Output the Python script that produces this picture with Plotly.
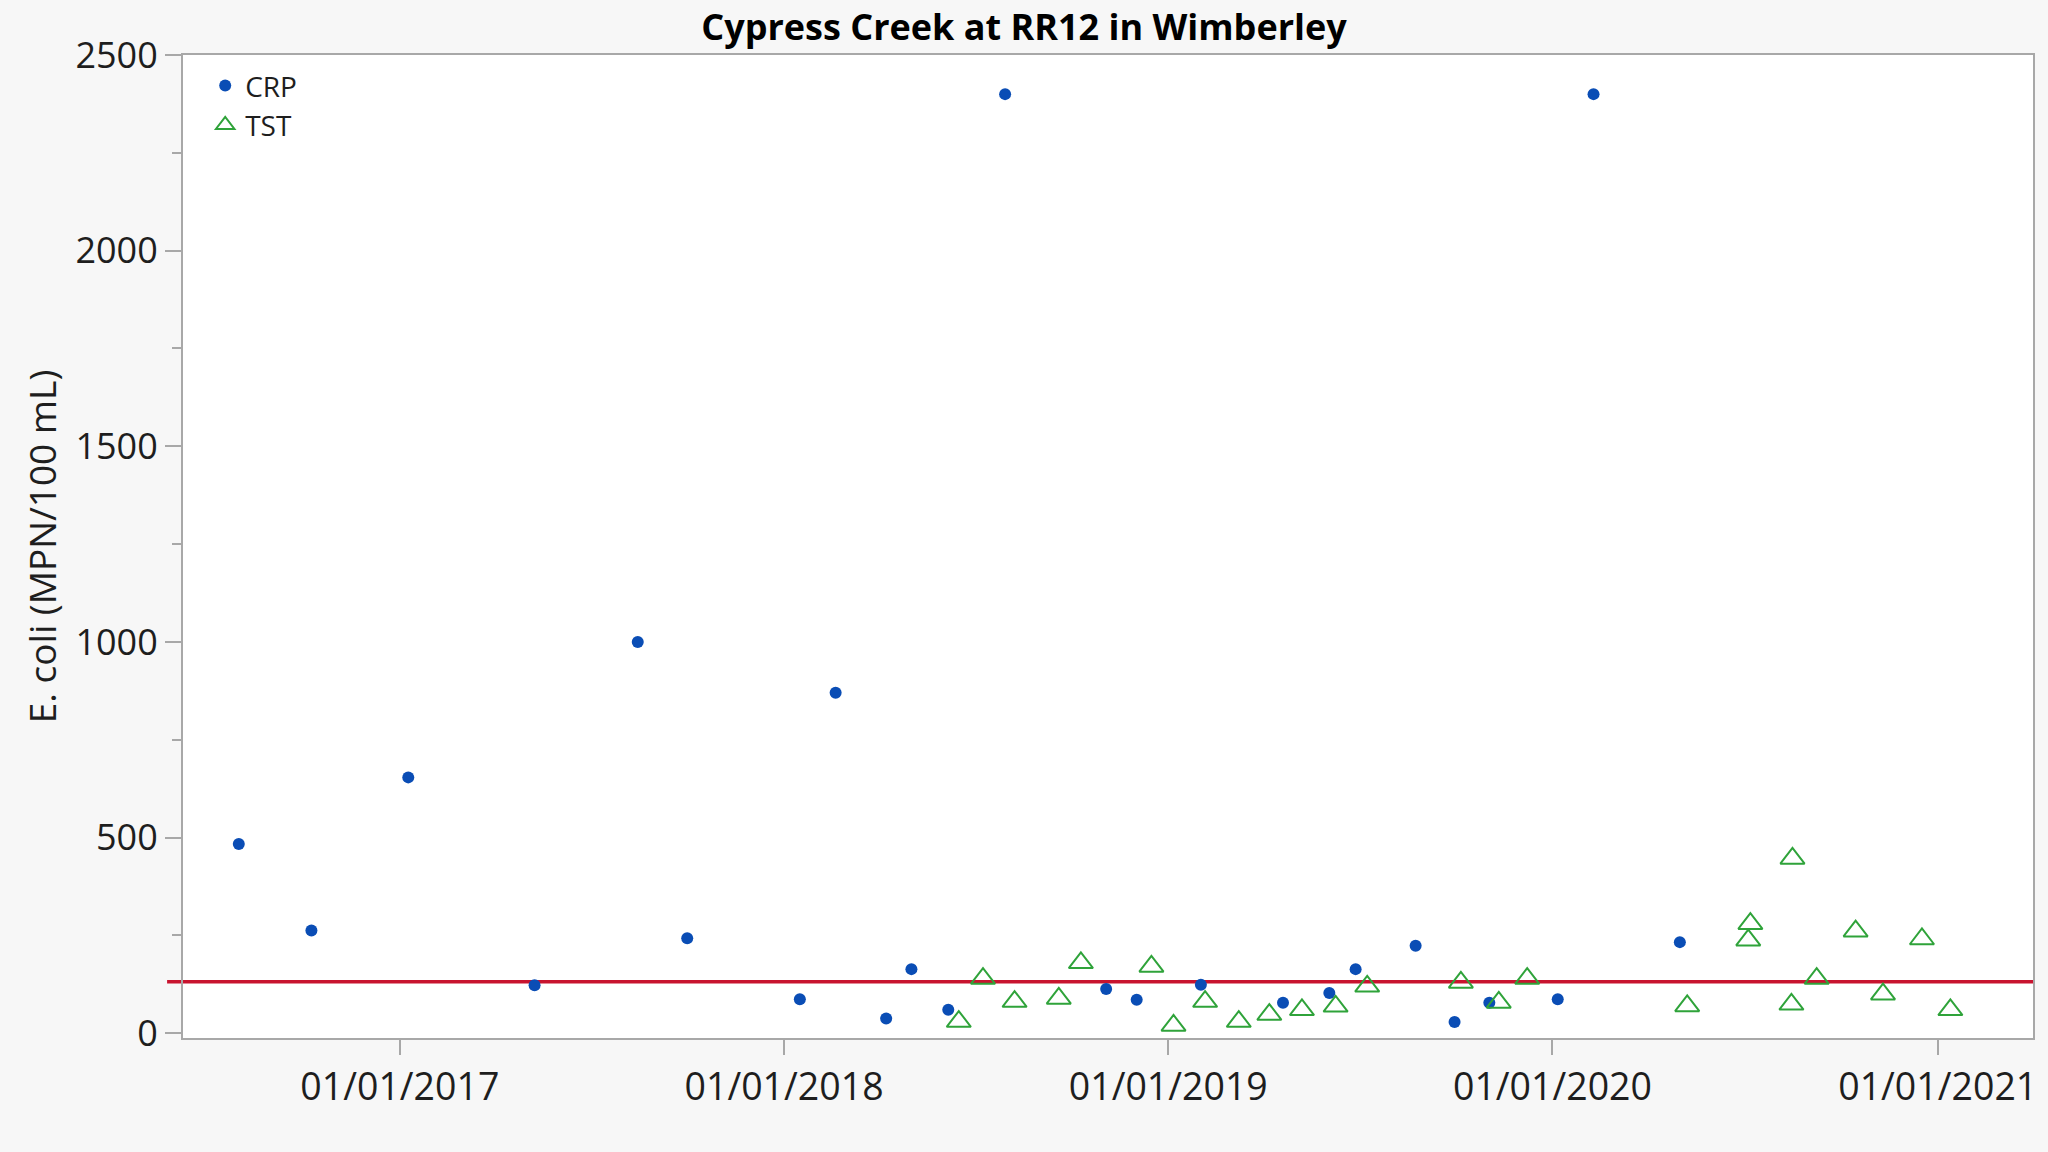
import plotly.graph_objects as go

# ---- data ----
crp_dates = [
    "2016-08-01", "2016-10-09", "2017-01-09", "2017-05-09", "2017-08-15",
    "2017-10-01", "2018-01-16", "2018-02-19", "2018-04-08", "2018-05-02",
    "2018-06-06", "2018-07-30", "2018-11-03", "2018-12-02", "2019-02-01",
    "2019-04-20", "2019-06-03", "2019-06-28", "2019-08-24", "2019-09-30",
    "2019-11-02", "2020-01-06", "2020-02-09", "2020-05-01",
]
crp_values = [
    484, 263, 654, 123, 1000,
    243, 87, 870, 38, 164,
    60, 2400, 113, 86, 124,
    78, 103, 164, 224, 29,
    78, 87, 2400, 233,
]

tst_dates = [
    "2018-06-16", "2018-07-09", "2018-08-08", "2018-09-19", "2018-10-10",
    "2018-12-16", "2019-01-06", "2019-02-05", "2019-03-09", "2019-04-07",
    "2019-05-08", "2019-06-09", "2019-07-09", "2019-10-06", "2019-11-11",
    "2019-12-08", "2020-05-08", "2020-07-05", "2020-07-07", "2020-08-15",
    "2020-08-16", "2020-09-08", "2020-10-15", "2020-11-10", "2020-12-17",
    "2021-01-13",
]
tst_values = [
    30, 140, 81, 89, 180,
    171, 20, 81, 30, 48,
    60, 69, 120, 130, 79,
    140, 70, 238, 280, 74,
    447, 140, 261, 100, 241,
    60,
]

criterion = 132  # reference (criterion) line

x_tick_dates = ["2017-01-01", "2018-01-01", "2019-01-01", "2020-01-01", "2021-01-01"]
x_tick_labels = ["01/01/2017", "01/01/2018", "01/01/2019", "01/01/2020", "01/01/2021"]
y_tick_vals = [0, 500, 1000, 1500, 2000, 2500]

title_text = "Cypress Creek at RR12 in Wimberley"
y_title = "E. coli (MPN/100 mL)"

# ---- figure ----
FONT = "Open Sans"
BLUE = "#0a4db5"
GREEN = "#2fa33a"
RED = "#c8142f"
AXIS = "#a8a8a8"
TEXT = "#1e1e1e"

fig = go.Figure()
fig.add_trace(go.Scatter(
    x=crp_dates, y=crp_values, mode="markers", name="CRP",
    marker=dict(symbol="circle", size=12, color=BLUE),
))
fig.add_trace(go.Scatter(
    x=tst_dates, y=tst_values, mode="markers", name="TST",
    marker=dict(symbol="triangle-up-open", size=21, color=GREEN,
                line=dict(width=2, color=GREEN)),
))

fig.add_shape(type="line", xref="paper", yref="y",
              x0=-0.0086, x1=1, y0=criterion, y1=criterion,
              line=dict(color=RED, width=3.5), layer="below")

fig.update_layout(
    width=2048, height=1152,
    paper_bgcolor="#f7f7f7", plot_bgcolor="#ffffff",
    margin=dict(l=183, r=15, t=55, b=114, autoexpand=False),
    title=dict(text=title_text, x=0.5, xanchor="center",
               y=1 - 27 / 1152, yanchor="middle",
               font=dict(family=FONT, size=36, color="#000000", weight="bold")),
    font=dict(family=FONT, color=TEXT),
    showlegend=True,
    legend=dict(x=0.012, y=0.994, xanchor="left", yanchor="top",
                bgcolor="rgba(0,0,0,0)", font=dict(family=FONT, size=28, color=TEXT),
                itemclick=False),
)

fig.update_xaxes(
    type="date", range=["2016-06-09", "2021-04-01 12:00"],
    tickvals=x_tick_dates, ticktext=x_tick_labels,
    ticks="outside", ticklen=15, tickwidth=2, tickcolor=AXIS,
    showline=True, linecolor=AXIS, linewidth=2, mirror=True,
    showgrid=False, zeroline=False,
    tickfont=dict(family=FONT, size=37.5, color=TEXT),
)
fig.update_yaxes(
    range=[-12, 2500],
    tickvals=y_tick_vals,
    ticks="outside", ticklen=16, tickwidth=2, tickcolor=AXIS,
    minor=dict(dtick=250, tick0=250, ticks="outside", ticklen=9, tickwidth=2, tickcolor=AXIS),
    showline=True, linecolor=AXIS, linewidth=2, mirror=True,
    showgrid=False, zeroline=False,
    tickfont=dict(family=FONT, size=36, color=TEXT),
    title=dict(text=y_title, font=dict(family=FONT, size=37, color=TEXT), standoff=8),
)

fig.write_html("out.html",
               config={"displayModeBar": False},
               post_script="document.body.style.margin='0';document.body.style.overflow='hidden';")
